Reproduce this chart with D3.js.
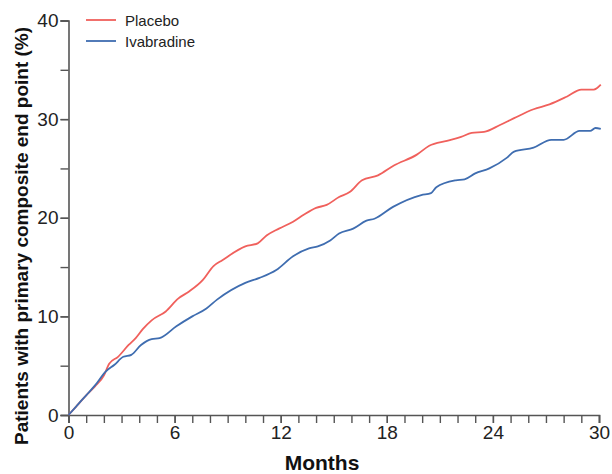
<!DOCTYPE html>
<html lang="en">
<head>
<meta charset="UTF-8">
<script src="https://d3js.org/d3.v7.min.js"></script>
<title>Primary composite end point</title>
<style>
  body { margin: 0; background: #fff; }
</style>
</head>
<body>
<svg width="612" height="474" id="mainsvg"></svg>
<script>
// series: months and cumulative % of patients
const placeboMonths = [0, 0.5, 1, 1.5, 2, 2.3, 2.8, 3.4, 3.8, 4.2, 4.7, 5.5, 6.2, 6.8, 7.6, 8.2, 8.7, 10, 10.7, 11.2, 11.9, 12.7, 13.3, 14, 14.6, 15.3, 15.9, 16.6, 17.5, 18.4, 19.7, 20.4, 21.4, 22.2, 22.8, 23.5, 24.4, 25.2, 26.3, 27.2, 28.2, 29, 29.7, 30.1];
const placeboValues = [0, 1.0, 2.0, 2.9, 4.0, 5.2, 5.9, 7.1, 7.8, 8.7, 9.6, 10.5, 11.8, 12.5, 13.7, 15.1, 15.7, 17.1, 17.4, 18.2, 18.9, 19.6, 20.3, 21.0, 21.3, 22.1, 22.6, 23.8, 24.3, 25.3, 26.4, 27.3, 27.8, 28.2, 28.6, 28.7, 29.4, 30.1, 31.0, 31.5, 32.3, 33.0, 33.0, 33.5];

const ivabMonths = [0, 0.5, 1, 1.5, 2.1, 2.6, 3.1, 3.55, 4.1, 4.7, 5.15, 6.1, 7, 7.8, 8.4, 10, 10.8, 11.75, 12.7, 13.6, 14.1, 14.8, 15.3, 16.1, 16.85, 17.3, 18.35, 19.95, 20.5, 20.8, 21.9, 22.4, 23, 23.8, 24.8, 25.2, 26.3, 27.3, 28, 28.9, 29.5, 29.8, 30.1];
const ivabValues = [0, 1.0, 2.0, 3.0, 4.4, 5.1, 5.9, 6.1, 7.1, 7.7, 7.8, 9.0, 10.0, 10.8, 11.7, 13.4, 13.9, 14.7, 16.1, 16.9, 17.1, 17.7, 18.4, 18.9, 19.7, 19.9, 21.1, 22.3, 22.5, 23.1, 23.8, 23.9, 24.5, 25.0, 26.1, 26.7, 27.1, 27.9, 27.9, 28.8, 28.8, 29.1, 29.0];

const seriesNames = ['Placebo', 'Ivabradine'];
const seriesColors = ['#f0605c', '#3f6db0'];
const xTicks = [0, 6, 12, 18, 24, 30];
const yTicks = [0, 10, 20, 30, 40];

const svg = d3.select('#mainsvg');
const margin = { left: 68.5, right: 13, top: 20.5, bottom: 59 };
const width = +svg.attr('width');
const height = +svg.attr('height');

const xScale = d3.scaleLinear().domain([0, 30]).range([margin.left, width - margin.right]);
const yScale = d3.scaleLinear().domain([0, 40]).range([height - margin.bottom, margin.top]);

const axisColor = '#555';
const tickFont = '"Liberation Sans Narrow", "Arial Narrow", "Liberation Sans", Arial, sans-serif';

// minor ticks (every month / every 5 %)
const xAxisMinor = d3.axisBottom(xScale).tickValues(d3.range(0, 31, 1)).tickSize(8).tickFormat('');
const yAxisMinor = d3.axisLeft(yScale).tickValues(d3.range(0, 41, 5)).tickSize(8).tickFormat('');

const gx = svg.append('g').attr('transform', `translate(0, ${yScale(0)})`).call(xAxisMinor);
const gy = svg.append('g').attr('transform', `translate(${xScale(0)}, 0)`).call(yAxisMinor);

// labelled ticks
const xAxis = d3.axisBottom(xScale).tickValues(xTicks).tickSize(8).tickPadding(3).tickFormat(d3.format('d'));
const yAxis = d3.axisLeft(yScale).tickValues(yTicks).tickSize(8).tickPadding(2).tickFormat(d3.format('d'));
const gx2 = svg.append('g').attr('transform', `translate(0, ${yScale(0)})`).call(xAxis);
const gy2 = svg.append('g').attr('transform', `translate(${xScale(0)}, 0)`).call(yAxis);

[gx, gy, gx2, gy2].forEach(g => {
  g.selectAll('path.domain').attr('stroke', axisColor).attr('stroke-width', 1.6);
  g.selectAll('.tick line').attr('stroke', axisColor).attr('stroke-width', 1.4);
  g.selectAll('.tick text')
    .attr('font-family', tickFont)
    .attr('font-size', 19)
    .attr('fill', '#222');
});
gx2.select('path.domain').remove();
gy2.select('path.domain').remove();

// curves
const line = d3.line()
  .x(d => xScale(d[0]))
  .y(d => yScale(d[1]))
  .curve(d3.curveMonotoneX);

const placebo = placeboMonths.map((m, i) => [m, placeboValues[i]]);
const ivab = ivabMonths.map((m, i) => [m, ivabValues[i]]);

svg.append('path').datum(placebo)
  .attr('d', line).attr('fill', 'none')
  .attr('stroke', seriesColors[0]).attr('stroke-width', 1.8);
svg.append('path').datum(ivab)
  .attr('d', line).attr('fill', 'none')
  .attr('stroke', seriesColors[1]).attr('stroke-width', 1.8);

// legend
const legend = svg.append('g').attr('transform', 'translate(86, 20)');
seriesNames.forEach((name, i) => {
  const row = legend.append('g').attr('transform', `translate(0, ${i * 21})`);
  row.append('line').attr('x1', 0).attr('x2', 30).attr('y1', 0).attr('y2', 0)
    .attr('stroke', seriesColors[i]).attr('stroke-width', 1.8);
  row.append('text').text(name)
    .attr('x', 39).attr('y', 5.5)
    .attr('font-family', '"Liberation Sans", Arial, sans-serif')
    .attr('font-size', 15)
    .attr('fill', '#222');
});

// axis titles
svg.append('text').text('Months')
  .attr('x', 322).attr('y', 470)
  .attr('text-anchor', 'middle')
  .attr('font-family', '"Liberation Sans", Arial, sans-serif')
  .attr('font-weight', 'bold')
  .attr('font-size', 21)
  .attr('fill', '#111');

svg.append('text').text('Patients with primary composite end point (%)')
  .attr('transform', 'translate(28, 236) rotate(-90)')
  .attr('text-anchor', 'middle')
  .attr('font-family', '"Liberation Sans", Arial, sans-serif')
  .attr('font-weight', 'bold')
  .attr('font-size', 19)
  .attr('fill', '#111');
</script>
</body>
</html>
